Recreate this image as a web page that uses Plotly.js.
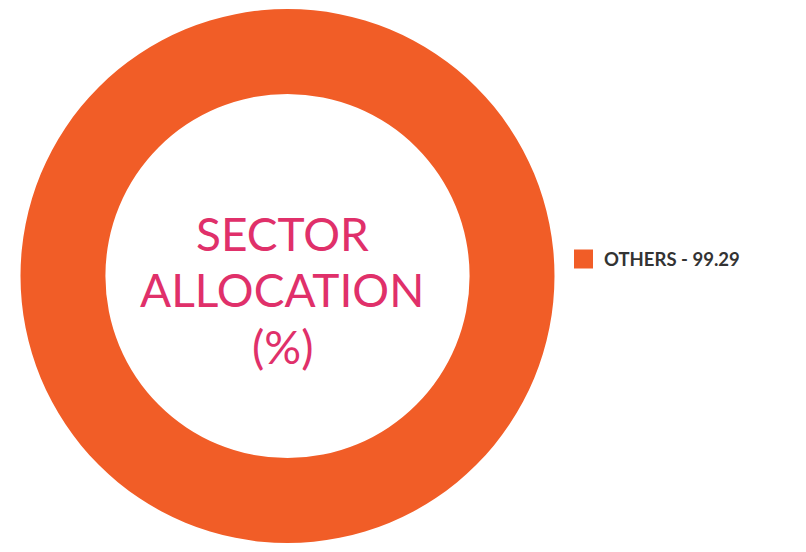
<!DOCTYPE html>
<html>
<head>
<meta charset="utf-8">
<script src="https://cdn.plot.ly/plotly-3.0.1.min.js"></script>
<style>
html,body{margin:0;padding:0;background:#fff;}
#chart{width:806px;height:552px;}
</style>
</head>
<body>
<div id="chart"></div>
<script>
// Data
var categories = ["OTHERS"];
var values = [99.29];
var colors = ["#F15D27"];
var centerTitle = ["SECTOR", "ALLOCATION", "(%)"];

var W = 806, H = 552;
var legendLabels = categories.map(function(c, i){ return c + " - " + values[i].toFixed(2); });

var trace = {
  type: "pie",
  labels: legendLabels,
  values: values,
  marker: {colors: colors, line: {width: 0}},
  hole: 0.682,
  sort: false,
  direction: "clockwise",
  textinfo: "none",
  hoverinfo: "none",
  domain: {x: [20/W, 555/W], y: [(H-543)/H, (H-9)/H]}
};

var titleY = [233, 289, 346];
var annotations = centerTitle.map(function(t, i){
  return {
    xref: "paper", yref: "paper",
    x: 282/W, y: (H-titleY[i])/H, xanchor: "center", yanchor: "middle",
    text: t, showarrow: false,
    font: {family: "Lato", size: 46, color: "#E0306A"}
  };
});

var shapes = [];
legendLabels.forEach(function(lbl, i){
  var cy = 259 + i*30;
  shapes.push({
    type: "rect", xref: "paper", yref: "paper",
    x0: 574/W, x1: 593/W, y0: (H-(cy+9.5))/H, y1: (H-(cy-9.5))/H,
    fillcolor: colors[i % colors.length], line: {width: 0}
  });
  annotations.push({
    xref: "paper", yref: "paper",
    x: 602/W, y: (H-cy)/H, xanchor: "left", yanchor: "middle",
    text: lbl, showarrow: false,
    font: {family: "Lato", size: 18.5, color: "#333333", weight: 700}
  });
});

var layout = {
  width: W, height: H,
  margin: {l: 0, r: 0, t: 0, b: 0},
  paper_bgcolor: "#ffffff",
  showlegend: false,
  annotations: annotations,
  shapes: shapes
};

Plotly.newPlot("chart", [trace], layout, {staticPlot: true});
</script>
</body>
</html>
